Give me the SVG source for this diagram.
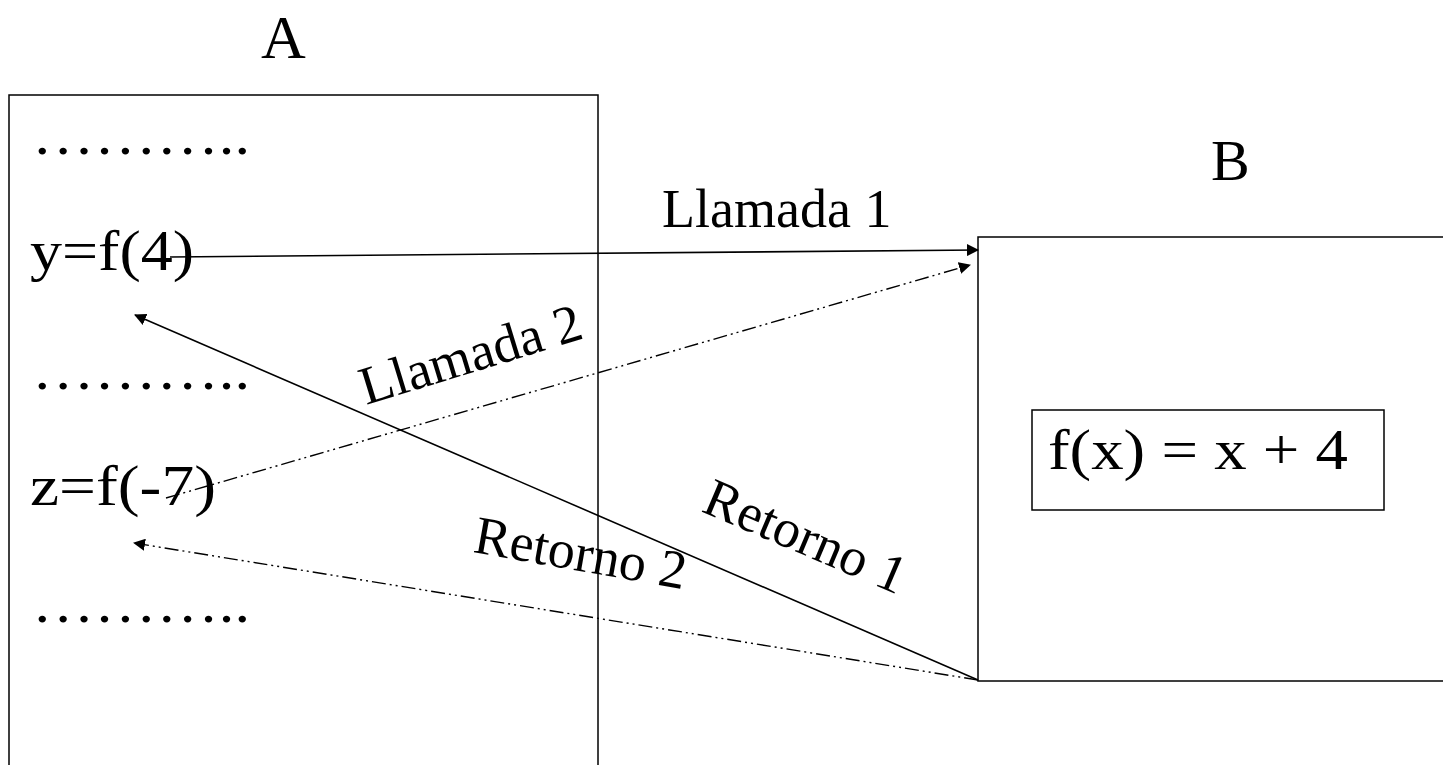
<svg xmlns="http://www.w3.org/2000/svg" width="1443" height="765" viewBox="0 0 1443 765">
  <style>
    text { font-family: "Liberation Serif", "Times New Roman", serif; fill: #000; }
    .box { fill: none; stroke: #000; stroke-width: 1.5; }
    .solid { fill: none; stroke: #000; stroke-width: 1.6; }
    .dashdot { fill: none; stroke: #000; stroke-width: 1.4; stroke-dasharray: 14 4 2 4 2 4; }
    .code { font-size: 58px; }
    .label { font-size: 54px; }
  </style>
  <defs>
    <marker id="arrow" markerWidth="12" markerHeight="12" refX="11" refY="6" orient="auto" markerUnits="userSpaceOnUse" viewBox="0 0 12 12">
      <path d="M0,0 L12,6 L0,12 z" fill="#000"/>
    </marker>
  </defs>
  <rect width="1443" height="765" fill="#fff"/>

  <!-- caller module A -->
  <g id="nodeA">
    <text x="261" y="58" font-size="62">A</text>
    <rect class="box" x="9" y="95" width="589" height="700"/>
    <text class="code" x="32" y="154" textLength="218" lengthAdjust="spacingAndGlyphs">………..</text>
    <text class="code" x="30" y="270" textLength="164" lengthAdjust="spacingAndGlyphs">y=f(4)</text>
    <text class="code" x="32" y="389" textLength="218" lengthAdjust="spacingAndGlyphs">………..</text>
    <text class="code" x="30" y="505" textLength="186" lengthAdjust="spacingAndGlyphs">z=f(-7)</text>
    <text class="code" x="32" y="622" textLength="218" lengthAdjust="spacingAndGlyphs">………..</text>
  </g>

  <!-- called module B -->
  <g id="nodeB">
    <text x="1211" y="180" font-size="58">B</text>
    <rect class="box" x="978" y="237" width="500" height="444"/>
  </g>

  <!-- function body -->
  <g id="nodeF">
    <rect class="box" x="1032" y="410" width="352" height="100"/>
    <text class="code" x="1048" y="469" textLength="300" lengthAdjust="spacingAndGlyphs">f(x) = x + 4</text>
  </g>

  <!-- calls and returns -->
  <g id="connectors">
    <line class="solid" x1="170" y1="257" x2="978" y2="250" marker-end="url(#arrow)"/>
    <line class="dashdot" x1="166" y1="498" x2="970" y2="265" marker-end="url(#arrow)"/>
    <line class="solid" x1="978" y1="680" x2="135" y2="315" marker-end="url(#arrow)"/>
    <line class="dashdot" x1="978" y1="680" x2="134" y2="543" marker-end="url(#arrow)"/>
  </g>

  <!-- connector labels -->
  <g id="labels">
    <text class="label" x="662" y="227">Llamada 1</text>
    <text class="label" transform="translate(366 405) rotate(-17)">Llamada 2</text>
    <text class="label" transform="translate(700 511) rotate(23)">Retorno 1</text>
    <text class="label" transform="translate(472 552) rotate(10)">Retorno 2</text>
  </g>
</svg>
